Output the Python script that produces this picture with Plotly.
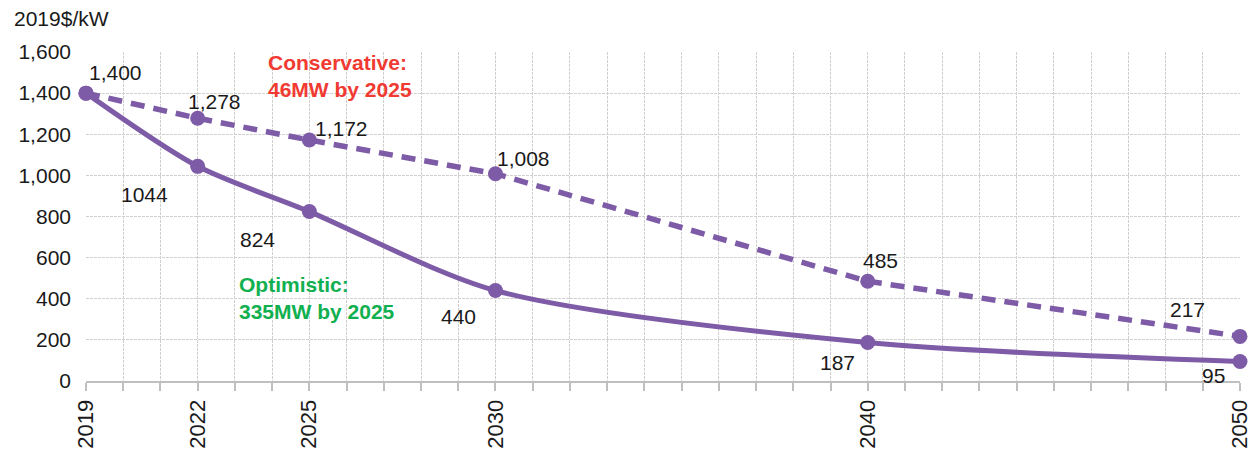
import plotly.graph_objects as go

years = [2019, 2022, 2025, 2030, 2040, 2050]
conservative = [1400, 1278, 1172, 1008, 485, 217]
optimistic = [1400, 1044, 824, 440, 187, 95]
cons_labels = ["1,400", "1,278", "1,172", "1,008", "485", "217"]
opt_labels = ["", "1044", "824", "440", "187", "95"]
tick_years = [2019, 2022, 2025, 2030, 2040, 2050]
y_ticks = [0, 200, 400, 600, 800, 1000, 1200, 1400, 1600]

PURPLE = "#7D5BA6"
FONT = "Liberation Sans, Arial, sans-serif"
GRID = "#d0d0d0"

fig = go.Figure()
fig.add_trace(go.Scatter(
    x=years, y=conservative, mode="lines+markers",
    line=dict(color=PURPLE, width=5.5, dash="14px,9px"),
    marker=dict(size=15, color=PURPLE), cliponaxis=False, showlegend=False))
fig.add_trace(go.Scatter(
    x=years, y=optimistic, mode="lines+markers",
    line=dict(color=PURPLE, width=5, shape="spline", smoothing=0.8),
    marker=dict(size=15, color=PURPLE), cliponaxis=False, showlegend=False))

# label offsets (years, value units)
cons_off = [(0.78, 98), (0.46, 79), (0.85, 58), (0.76, 76), (0.33, 103), (-1.4, 133)]
opt_off = [(0, 0), (-1.44, -135), (-1.38, -134), (-1.0, -124), (-0.8, -99), (-0.7, -66)]

anns = []
for x, y, t, (dx, dy) in zip(years, conservative, cons_labels, cons_off):
    anns.append(dict(x=x + dx, y=y + dy, text=t, showarrow=False,
                     font=dict(size=21, color="#1a1a1a", family=FONT)))
for x, y, t, (dx, dy) in zip(years, optimistic, opt_labels, opt_off):
    if t:
        anns.append(dict(x=x + dx, y=y + dy, text=t, showarrow=False,
                         font=dict(size=21, color="#1a1a1a", family=FONT)))

anns.append(dict(x=2023.83, y=1481, xanchor="left", align="left", showarrow=False,
                 text="<b>Conservative:<br>46MW by 2025</b>",
                 font=dict(size=21, color="#F03A32", family=FONT)))
anns.append(dict(x=2023.06, y=406, xanchor="left", align="left", showarrow=False,
                 text="<b>Optimistic:<br>335MW by 2025</b>",
                 font=dict(size=21, color="#10B050", family=FONT)))
anns.append(dict(xref="paper", yref="paper", x=-0.0641, y=1.103,
                 xanchor="left", yanchor="middle", showarrow=False,
                 text="2019$/kW", font=dict(size=21, color="#1a1a1a", family=FONT)))

fig.update_layout(
    width=1252, height=453,
    margin=dict(l=86, r=12, t=52, b=72),
    paper_bgcolor="white", plot_bgcolor="white",
    font=dict(family=FONT, size=21, color="#1a1a1a"),
    annotations=anns,
    xaxis=dict(
        range=[2019, 2050], tickmode="array", tickvals=tick_years,
        ticktext=[str(v) for v in tick_years], tickangle=-90,
        tickfont=dict(size=22), automargin=False, ticklabeloverflow="allow",
        ticks="outside", ticklen=8, tickcolor="#bfbfbf", tickwidth=1.5,
        showgrid=True, gridcolor=GRID, griddash="3px,1px", gridwidth=1.3,
        showline=True, linecolor="#bfbfbf", linewidth=2,
        zeroline=False,
        minor=dict(dtick=1, tick0=2019, ticks="outside", ticklen=8, tickcolor="#bfbfbf",
                   tickwidth=1.5,
                   showgrid=True, gridcolor=GRID, griddash="3px,1px", gridwidth=1.3),
    ),
    yaxis=dict(
        range=[0, 1600], tickmode="array", tickvals=y_ticks,
        ticktext=[f"{v:,}" for v in y_ticks],
        tickfont=dict(size=21), automargin=False,
        ticks="", ticklabelstandoff=14,
        showgrid=True, gridcolor=GRID, griddash="3px,1px", gridwidth=1.3,
        zeroline=False, showline=False,
    ),
)

fig.write_html("out.html", config={"displayModeBar": False},
               post_script="document.body.style.margin='0';document.body.style.overflow='hidden';")
